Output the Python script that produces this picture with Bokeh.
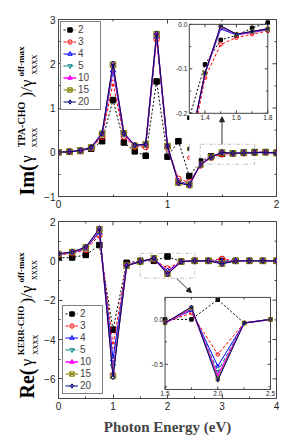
import numpy as np
from math import pi
from bokeh.plotting import figure
from bokeh.models import (Range1d, FixedTicker, BoxAnnotation, Arrow, NormalHead)
from bokeh.layouts import column, row
from bokeh.embed import file_html
from bokeh.resources import INLINE
from bokeh.core.properties import value

# ---------------- data ----------------
series_names = ["2", "3", "4", "5", "10", "15", "20"]

im_energy = [0.0, 0.1, 0.2, 0.3, 0.4, 0.5, 0.6, 0.7, 0.8, 0.9, 1.0,
             1.1, 1.2, 1.3, 1.4, 1.5, 1.6, 1.7, 1.8, 1.9, 2.0]
im_2 = [0.00, 0.01, 0.03, 0.08, 0.25, 1.18, 0.22, 0.02, -0.08, 1.60, -0.10,
        0.25, -0.54, -0.21, -0.09, -0.035, -0.025, -0.008, 0.004, 0.005, -0.01]
im_3 = [0.00, 0.01, 0.03, 0.09, 0.35, 1.57, 0.35, 0.12, 0.12, 2.55, 0.10,
        -0.60, -0.68, -0.30, -0.12, -0.045, -0.030, -0.022, -0.015, 0.00, -0.01]
im_4 = [0.00, 0.01, 0.04, 0.10, 0.40, 1.85, 0.40, 0.14, 0.16, 2.62, 0.12,
        -0.66, -0.72, -0.28, -0.11, -0.010, -0.024, -0.018, -0.012, 0.00, -0.02]
im_5 = [0.00, 0.01, 0.04, 0.10, 0.41, 1.92, 0.41, 0.15, 0.17, 2.64, 0.13,
        -0.67, -0.73, -0.28, -0.11, -0.007, -0.023, -0.017, -0.011, 0.00, -0.02]
im_10 = [0.00, 0.01, 0.04, 0.11, 0.42, 1.96, 0.42, 0.15, 0.17, 2.66, 0.13,
         -0.68, -0.74, -0.28, -0.11, -0.005, -0.022, -0.017, -0.010, 0.00, -0.02]
im_15 = [0.00, 0.01, 0.04, 0.11, 0.42, 1.98, 0.43, 0.15, 0.18, 2.67, 0.14,
         -0.69, -0.74, -0.28, -0.11, -0.004, -0.022, -0.016, -0.010, 0.00, -0.02]
im_20 = [0.00, 0.01, 0.04, 0.11, 0.43, 2.00, 0.43, 0.16, 0.18, 2.68, 0.14,
         -0.69, -0.75, -0.28, -0.11, -0.003, -0.022, -0.016, -0.010, 0.00, -0.02]

re_energy = [0.0, 0.25, 0.5, 0.75, 1.0, 1.25, 1.5, 1.75, 2.0,
             2.25, 2.5, 2.75, 3.0, 3.25, 3.5, 3.75, 4.0]
re_2 = [0.15, 0.17, 0.30, 0.80, -3.50, -0.10, 0.00, 0.00, 0.22,
        -0.04, 0.00, 0.00, 0.00, 0.00, 0.00, 0.00, 0.00]
re_3 = [0.30, 0.38, 0.55, 1.30, -4.30, -0.20, -0.03, 0.07, -0.39,
        -0.04, 0.00, 0.00, 0.10, 0.00, 0.00, 0.00, 0.00]
re_4 = [0.33, 0.42, 0.62, 1.45, -5.00, -0.22, -0.035, 0.10, -0.52,
        -0.04, 0.00, 0.00, -0.05, 0.00, 0.00, 0.00, 0.00]
re_5 = [0.34, 0.43, 0.65, 1.50, -5.35, -0.23, -0.035, 0.11, -0.58,
        -0.04, 0.00, 0.00, -0.10, 0.00, 0.00, 0.00, 0.00]
re_10 = [0.35, 0.44, 0.67, 1.58, -5.75, -0.24, -0.04, 0.12, -0.63,
         -0.04, 0.00, 0.00, -0.12, 0.00, 0.00, 0.00, 0.00]
re_15 = [0.35, 0.45, 0.68, 1.60, -5.85, -0.25, -0.04, 0.13, -0.66,
         -0.04, 0.00, 0.00, -0.14, 0.00, 0.00, 0.00, 0.00]
re_20 = [0.36, 0.45, 0.70, 1.65, -5.90, -0.25, -0.04, 0.14, -0.68,
         -0.04, 0.00, 0.00, -0.15, 0.00, 0.00, 0.00, 0.00]

im_series = [im_2, im_3, im_4, im_5, im_10, im_15, im_20]
re_series = [re_2, re_3, re_4, re_5, re_10, re_15, re_20]

# tick values
im_xticks, im_xminor = [0, 1, 2], [0.5, 1.5]
im_yticks, im_yminor = [-1, 0, 1, 2, 3], [-0.5, 0.5, 1.5, 2.5]
re_xticks, re_xminor = [0, 1, 2, 3, 4], [0.5, 1.5, 2.5, 3.5]
re_yticks, re_yminor = [-6, -4, -2, 0, 2], [-7, -5, -3, -1, 1]

im_inset_xticks, im_inset_xlabels = [1.4, 1.6, 1.8], ["1.4", "1.6", "1.8"]
im_inset_xminor = [1.5, 1.7]
im_inset_yticks, im_inset_ylabels = [0.0, -0.1, -0.2], ["0.0", "-0.1", "-0.2"]
im_inset_yminor = [-0.05, -0.15]
re_inset_xticks, re_inset_xlabels = [1.5, 2.0, 2.5], ["1.5", "2.0", "2.5"]
re_inset_xminor = [1.75, 2.25]
re_inset_yticks, re_inset_ylabels = [0.0, -0.5], ["0.0", "-0.5"]
re_inset_yminor = [-0.25, -0.75]

# ---------------- styles ----------------
STY = {
    "2":  dict(color="black", marker="square", fill=True, dash="2 2", lw=1.0, angle=0),
    "3":  dict(color="red", marker="circle", fill=False, dash="3 2", lw=1.0, angle=0),
    "4":  dict(color="blue", marker="triangle", fill=False, dash="solid", lw=1.0, angle=0),
    "5":  dict(color="teal", marker="inverted_triangle", fill=False, dash="4 2", lw=1.0, angle=0),
    "10": dict(color="magenta", marker="triangle", fill=True, dash="solid", lw=1.5, angle=pi / 2),
    "15": dict(color="olive", marker="square_x", fill=False, dash="solid", lw=1.0, angle=0),
    "20": dict(color="navy", marker="diamond", fill=False, dash="solid", lw=1.0, angle=0),
}
AX = "#444444"
SANS = "Liberation Sans"
SERIF = "Liberation Serif"
LAB_W = 41


def make_fig(height, xr, yr, xt, xm, yt, ym, btop, bbot):
    p = figure(width=245, height=height, x_range=Range1d(*xr), y_range=Range1d(*yr),
               output_backend="svg", toolbar_location=None,
               min_border_left=14, min_border_right=10,
               min_border_top=btop, min_border_bottom=bbot)
    p.grid.visible = False
    p.xaxis.ticker = FixedTicker(ticks=xt, minor_ticks=xm)
    p.yaxis.ticker = FixedTicker(ticks=yt, minor_ticks=ym)
    for ax in (p.xaxis[0], p.yaxis[0]):
        ax.major_tick_in = 4
        ax.major_tick_out = 0
        ax.minor_tick_in = 2
        ax.minor_tick_out = 0
        ax.axis_line_color = AX
        ax.major_tick_line_color = AX
        ax.minor_tick_line_color = AX
        ax.major_label_text_font = SANS
        ax.major_label_text_font_size = "10px"
        ax.major_label_text_color = "#222222"
        ax.major_label_standoff = 3
    p.outline_line_color = AX
    p.background_fill_color = "white"
    p.border_fill_color = "white"
    # inward ticks on the top and right edges of the frame
    for ticks, ln in ((xt, 4), (xm, 2)):
        p.ray(x=ticks, y=[yr[1]] * len(ticks), length=ln, length_units="screen",
              angle=-pi / 2, line_color=AX)
    for ticks, ln in ((yt, 4), (ym, 2)):
        p.ray(x=[xr[1]] * len(ticks), y=ticks, length=ln, length_units="screen",
              angle=pi, line_color=AX)
    return p


def label_fig(height, frame_top, frame_bottom, parts):
    # the row aligns this figure's frame with the panel's frame; y data = -(page y)
    f = figure(width=LAB_W, height=height, x_range=Range1d(0, LAB_W),
               y_range=Range1d(-frame_bottom, -frame_top),
               output_backend="svg", toolbar_location=None,
               x_axis_location=None, y_axis_location=None, min_border=0)
    f.grid.visible = False
    f.outline_line_color = None
    f.background_fill_color = "white"
    f.border_fill_color = "white"
    for txt, x, y, size, bold in parts:
        f.text(x=[x], y=[-y], text=[txt], angle=pi / 2, text_font=value(SERIF),
               text_font_style="bold" if bold else "normal", text_font_size=size,
               text_align="center", text_baseline="middle", text_color="black")
    return f


def draw_series(target, xs, ys_list, size, legend=True):
    for name, ys in zip(series_names, ys_list):
        s = STY[name]
        kw = dict(legend_label=name) if legend else {}
        target.line(xs, ys, line_color=s["color"], line_dash=s["dash"],
                    line_width=s["lw"], **kw)
        target.scatter(xs, ys, marker=s["marker"], size=size, angle=s["angle"],
                       line_color=s["color"], line_width=1,
                       fill_color=s["color"] if s["fill"] else None, **kw)


def style_legend(p, loc, margin):
    lg = p.legend[0]
    lg.location = loc
    lg.margin = margin
    lg.padding = 2
    lg.spacing = 1
    lg.label_height = 11
    lg.glyph_height = 11
    lg.glyph_width = 13
    lg.label_standoff = 2
    lg.label_text_font = SANS
    lg.label_text_font_size = "10px"
    lg.border_line_color = "black"
    lg.border_line_width = 1
    lg.background_fill_alpha = 1.0


def draw_inset(p, xs_all, ys_list, src_x, src_y, tgt_x, tgt_y,
               xt, xl, xm, yt, yl, ym, mask_right=None, mask_bottom=None):
    ins = p.subplot(x_source=src_x, y_source=src_y, x_target=tgt_x, y_target=tgt_y)
    x0, x1, y0, y1 = src_x.start, src_x.end, src_y.start, src_y.end
    ins.quad(left=[x0], right=[x1], bottom=[y0], top=[y1],
             fill_color="white", line_color=None)
    xa = np.array(xs_all)
    sel = (xa >= x0 - 1e-9) & (xa <= x1 + 1e-9)
    draw_series(ins, list(xa[sel]), [list(np.array(y)[sel]) for y in ys_list], 3.5, legend=False)
    if mask_right is not None:
        ins.quad(left=[x0], right=[mask_right], bottom=[mask_bottom], top=[y0],
                 fill_color="white", line_color=None)
    ins.quad(left=[x0], right=[x1], bottom=[y0], top=[y1],
             fill_color=None, line_color=AX, line_width=1)
    for ticks, ln in ((xt, 3), (xm, 2)):
        n = len(ticks)
        ins.ray(x=ticks, y=[y0] * n, length=ln, length_units="screen", angle=pi / 2, line_color=AX)
        ins.ray(x=ticks, y=[y1] * n, length=ln, length_units="screen", angle=-pi / 2, line_color=AX)
    for ticks, ln in ((yt, 3), (ym, 2)):
        n = len(ticks)
        ins.ray(x=[x0] * n, y=ticks, length=ln, length_units="screen", angle=0, line_color=AX)
        ins.ray(x=[x1] * n, y=ticks, length=ln, length_units="screen", angle=pi, line_color=AX)
    ins.text(x=xt, y=[y0] * len(xt), text=xl, text_align="center", text_baseline="top",
             y_offset=2, text_font=value(SANS), text_font_size="6.5px", text_color="#222222")
    ins.text(x=[x0] * len(yt), y=yt, text=yl, text_align="right", text_baseline="middle",
             x_offset=-2, text_font=value(SANS), text_font_size="6.5px", text_color="#222222")


# ---------------- top panel (Im) ----------------
H1, H2 = 210, 228
p1 = make_fig(H1, (0, 2), (-1, 3), im_xticks, im_xminor, im_yticks, im_yminor, 19, 14)
draw_series(p1, im_energy, im_series, 5.5)
style_legend(p1, "top_left", 2)
p1.add_layout(BoxAnnotation(left=1.3, right=1.8, bottom=-0.27, top=0.18,
                            fill_alpha=0, line_color="#333333", line_dash="4 2 1 2", line_width=1))
p1.add_layout(Arrow(end=NormalHead(size=5, fill_color="#222222", line_color="#222222"),
                    x_start=1.5, y_start=0.18, x_end=1.5, y_end=0.8,
                    line_color="#333333", line_width=1))
draw_inset(p1, im_energy, im_series, Range1d(1.3, 1.8), Range1d(-0.2, 0.0),
           Range1d(1.2, 1.92), Range1d(0.88, 2.89),
           im_inset_xticks, im_inset_xlabels, im_inset_xminor,
           im_inset_yticks, im_inset_ylabels, im_inset_yminor,
           mask_right=1.36, mask_bottom=-0.32)
# (text, x centre, y centre in page pixels, size, bold) -- rotated label pieces
lab1 = label_fig(H1, 19, 196, [
    ("Im(", 26, 179.5, "20px", True),
    ("\u03b3", 26, 158.5, "17px", False),
    ("xxxx", 33, 137, "10px", False),
    ("TPA-CHO", 21, 124, "10px", True),
    (")/\u03b3", 26, 88, "17px", False),
    ("off-max", 20, 61, "9px", True),
    ("xxxx", 32.5, 64, "10px", False),
])

# ---------------- bottom panel (Re) ----------------
p2 = make_fig(H2, (0, 4), (-7, 2), re_xticks, re_xminor, re_yticks, re_yminor, 11, 40)
draw_series(p2, re_energy, re_series, 5.5)
style_legend(p2, "bottom_left", 4)
p2.xaxis.axis_label = "Photon Energy (eV)"
p2.xaxis.axis_label_text_font = SERIF
p2.xaxis.axis_label_text_font_style = "bold"
p2.xaxis.axis_label_text_font_size = "15px"
p2.xaxis.axis_label_standoff = 6
p2.add_layout(BoxAnnotation(left=1.5, right=2.5, bottom=-0.88, top=0.38,
                            fill_alpha=0, line_color="#333333", line_dash="4 2 1 2", line_width=1))
p2.add_layout(Arrow(end=NormalHead(size=5, fill_color="#222222", line_color="#222222"),
                    x_start=2.17, y_start=-0.9, x_end=2.44, y_end=-1.62,
                    line_color="#333333", line_width=1))
draw_inset(p2, re_energy, re_series, Range1d(1.5, 2.5), Range1d(-0.78, 0.245),
           Range1d(1.955, 3.89), Range1d(-6.54, -1.86),
           re_inset_xticks, re_inset_xlabels, re_inset_xminor,
           re_inset_yticks, re_inset_ylabels, re_inset_yminor)
lab2 = label_fig(H2, 221, 398, [
    ("Re(", 26, 383, "20px", True),
    ("\u03b3", 26, 362, "17px", False),
    ("xxxx", 33.5, 344, "10px", False),
    ("KERR-CHO", 20, 330, "9px", True),
    (")/\u03b3", 26, 294, "17px", False),
    ("off-max", 20, 267, "9px", True),
    ("xxxx", 32.5, 269.5, "10px", False),
])

layout = column(row(lab1, p1, spacing=0), row(lab2, p2, spacing=0), spacing=0)
open("out.html", "w").write(file_html(layout, INLINE))
